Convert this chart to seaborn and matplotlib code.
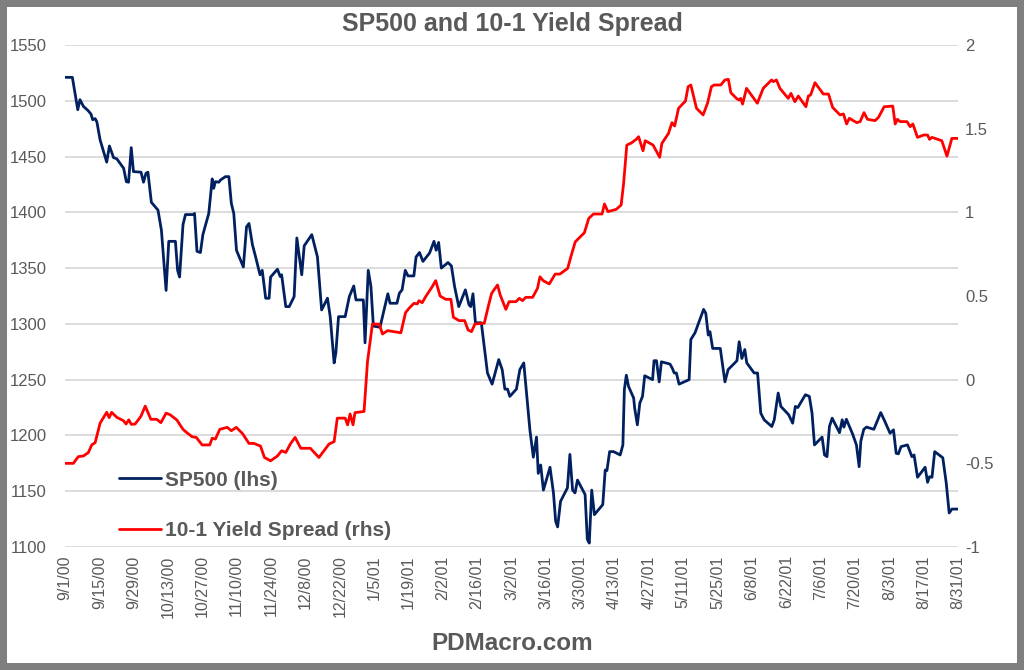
import pandas as pd
import matplotlib.pyplot as plt
import seaborn as sns
from matplotlib.patches import Rectangle

# Data (days after 9/1/00, value)
start = pd.Timestamp("2000-09-01")

sp_days = [0, 3, 5.2, 6.1, 7.5, 9.5, 10.6, 11.3, 12.3, 13, 14.3, 17, 18.1, 19.8, 21.1, 23.9, 25, 25.9,
           27, 27.9, 31, 32, 33, 33.8, 35.2, 37.9, 39.3, 41.2, 42.3, 45, 45.9, 46.7, 48.1, 49.1, 52.2,
           52.8, 53.8, 55.2, 56.2, 58.6, 60, 60.6, 61.3, 62.7, 63.4, 65.4, 66.8, 67.8, 68.8, 69.9, 72.7,
           74, 75, 76.4, 77.7, 79.5, 80.4, 81.8, 83.2, 83.8, 86.6, 87.7, 88.3, 90, 91.4, 93.4, 94.5,
           96.5, 97.5, 100.6, 102.9, 104.6, 107, 108.1, 109.7, 110.4, 111.5, 114.2, 115.9, 117.7, 118.6,
           121.6, 122.3, 123.6, 124.7, 125.7, 128.4, 130.2, 131.6, 132.5, 135.3, 136.3, 137.4, 138.7,
           139.8, 142.2, 143.1, 144.5, 145.9, 148.6, 150.4, 151.3, 152.3, 153.4, 156.1, 157.5, 158.8,
           160.5, 163.2, 164.7, 165.4, 166.3, 167.3, 169.7, 172.2, 174.1, 176.8, 178.2, 179.3, 180.4,
           181.3, 184, 185.4, 187, 188.4, 189.5, 190.9, 192.2, 192.9, 193.9, 195, 197.7, 199.1, 200,
           200.8, 202, 204.8, 205.8, 206.9, 207.9, 208.9, 212, 212.9, 213.7, 214.7, 215.8, 219.2, 220.2,
           220.9, 222, 223.6, 226.3, 227.4, 228, 228.8, 229.7, 231.8, 232.2, 233.3, 234.3, 235.4, 236.3,
           239.5, 240.1, 241.1, 242.2, 243.1, 246.6, 247.6, 248.3, 249.2, 250.3, 254.4, 255.1, 256.8,
           260.3, 261.2, 262.2, 262.9, 264, 267.1, 269, 270.3, 273.9, 274.8, 275.9, 277.1, 277.9, 280.9,
           282.3, 283.6, 285, 288.1, 289.1, 290.7, 291.8, 295, 296.6, 297.7, 298.7, 301.8, 303.4, 304.5,
           305.5, 308.6, 309.6, 310.6, 311.6, 312.7, 315.7, 316.8, 317.5, 318.5, 321, 322.6, 323.7,
           324.4, 325.6, 326.7, 329.7, 332.5, 334.2, 336.3, 337.7, 338.8, 339.7, 340.8, 343.4, 345.2,
           346.1, 347.5, 350.6, 351.6, 352.4, 353.4, 354.5, 357.8, 359.2, 360.4, 361.5, 364]
sp_vals = [1521, 1521, 1492, 1501, 1495, 1491, 1488, 1483, 1484, 1481, 1465, 1445, 1459.5, 1449, 1448,
           1439.5, 1427.5, 1427, 1458, 1436.5, 1436, 1427, 1435, 1436, 1409, 1402, 1384, 1330, 1374,
           1374, 1348, 1342, 1389, 1398, 1398, 1399, 1365, 1364, 1380, 1399, 1430, 1421.5, 1427.5, 1427,
           1429, 1432, 1432, 1408, 1399, 1366, 1351, 1387, 1390, 1371, 1360, 1344, 1348, 1323, 1323,
           1342, 1349, 1342.5, 1344, 1315.5, 1315.5, 1324.5, 1377, 1344, 1370, 1380, 1360, 1312.5, 1323,
           1306.5, 1265, 1274, 1306.5, 1306.5, 1324.5, 1334, 1321.5, 1321.5, 1283, 1348, 1333.5, 1298,
           1297, 1314, 1327, 1318.5, 1318.5, 1327.5, 1330.5, 1348, 1343, 1343, 1360, 1364, 1356, 1363.5,
           1374, 1366, 1373, 1350, 1355, 1352, 1333.5, 1315.5, 1330.5, 1317, 1315.5, 1327, 1301, 1301,
           1256, 1246, 1268, 1259, 1241.5, 1241.5, 1235, 1241.5, 1259, 1265, 1232, 1205, 1180.5, 1198.5,
           1166, 1173.5, 1151, 1171.5, 1148.5, 1123, 1118, 1141, 1153, 1183, 1151, 1148.5, 1160, 1147,
           1107, 1103.5, 1151, 1129, 1138, 1169, 1168.5, 1185.5, 1185.5, 1182.5, 1191.5, 1241, 1254,
           1244, 1233.5, 1224.5, 1209.5, 1229, 1235, 1253.5, 1250, 1267, 1267, 1248, 1266, 1264, 1260,
           1256, 1256, 1246, 1250, 1286, 1292, 1313, 1309.5, 1290, 1293, 1278, 1278, 1248, 1259, 1267,
           1284, 1269, 1277, 1265, 1256, 1256, 1220, 1214, 1208, 1214, 1238, 1226, 1218.5, 1211, 1226,
           1225, 1236.5, 1235, 1220, 1191.5, 1198.5, 1182.5, 1181, 1208, 1215.5, 1202.5, 1214, 1207.5,
           1214.5, 1201.5, 1191.5, 1172, 1195, 1205.5, 1207.5, 1205.5, 1220.5, 1212.5, 1202, 1205, 1184,
           1183.5, 1190, 1191.5, 1181, 1182.5, 1162.5, 1171.5, 1158, 1163, 1162.5, 1185.5, 1180, 1157.5,
           1130.5, 1134, 1134]

spread_days = [0, 3.4, 5.4, 7.5, 9.5, 10.9, 12.3, 14.3, 17, 18, 19, 21.1, 23.8, 24.9, 26, 27, 28.6,
               30.9, 32.7, 35, 37.4, 39.1, 41.2, 42.9, 45.6, 48.1, 49.7, 51.8, 53.5, 55.9, 59, 60, 61.3,
               63.1, 66.1, 67.8, 69.8, 72.3, 75, 77, 79.7, 81.3, 83.8, 86.6, 88.3, 90, 92, 93.8, 96.1,
               100, 103.5, 107.6, 109.7, 111, 114.2, 115.2, 116.2, 117.4, 118.2, 121.9, 123.3, 125.3,
               128.1, 129.4, 131.5, 136.9, 138.8, 140.2, 142.2, 143.6, 144.3, 145.6, 147, 149.7, 151.1,
               152.9, 155.2, 157.3, 158.3, 160.6, 162.9, 164.3, 165.7, 167.1, 170.9, 172.5, 173.9, 176.3,
               177.4, 179.7, 181, 183.8, 185.2, 186.5, 187.8, 190.6, 192.6, 193.6, 194.9, 197.4, 199.8,
               201.7, 204.9, 206.2, 208, 211.7, 213.5, 215.4, 218.9, 219.9, 221.3, 224.7, 226.7, 227.7,
               229, 230.8, 232.9, 233.8, 235.6, 236.5, 239.7, 242.4, 243.3, 246, 247.4, 248.5, 250.1,
               252.9, 254, 255.1, 257.4, 260.1, 261.9, 263.5, 264.6, 267.3, 269, 270.4, 271.4, 273.7,
               274.7, 275.4, 276.2, 277.8, 280.5, 282.2, 284.6, 288, 288.7, 290, 291.4, 294.8, 295.9,
               297.5, 298.9, 302, 303, 303.9, 305.7, 309.1, 311.2, 312.9, 315.9, 317.3, 318.6, 319.7,
               322.7, 324.1, 325.7, 327.1, 330.2, 331.6, 333.9, 337.4, 338.4, 339.3, 340.4, 343.2, 344.5,
               345.6, 347.5, 350, 351.6, 352.4, 353.4, 357.4, 359.5, 361.5, 364]
spread_vals = [-0.5, -0.5, -0.46, -0.456, -0.436, -0.39, -0.376, -0.26, -0.195, -0.227, -0.195, -0.225,
               -0.245, -0.265, -0.24, -0.267, -0.265, -0.22, -0.158, -0.237, -0.237, -0.257, -0.2, -0.21,
               -0.241, -0.297, -0.317, -0.341, -0.345, -0.39, -0.39, -0.35, -0.355, -0.297, -0.285,
               -0.305, -0.285, -0.321, -0.381, -0.381, -0.397, -0.465, -0.485, -0.456, -0.425, -0.435,
               -0.381, -0.345, -0.41, -0.41, -0.465, -0.385, -0.37, -0.23, -0.23, -0.27, -0.205, -0.27,
               -0.197, -0.19, 0.107, 0.332, 0.332, 0.273, 0.293, 0.28, 0.4, 0.426, 0.456, 0.453, 0.472,
               0.46, 0.496, 0.556, 0.592, 0.5, 0.48, 0.48, 0.373, 0.353, 0.353, 0.297, 0.287, 0.333, 0.337,
               0.436, 0.516, 0.566, 0.506, 0.42, 0.466, 0.466, 0.486, 0.472, 0.492, 0.492, 0.546, 0.615,
               0.592, 0.572, 0.631, 0.631, 0.665, 0.735, 0.824, 0.878, 0.964, 0.99, 0.99, 1.05, 1.004,
               1.018, 1.044, 1.173, 1.402, 1.414, 1.437, 1.452, 1.368, 1.428, 1.402, 1.329, 1.412, 1.472,
               1.536, 1.516, 1.622, 1.665, 1.751, 1.761, 1.622, 1.582, 1.652, 1.751, 1.761, 1.761, 1.791,
               1.795, 1.715, 1.681, 1.671, 1.681, 1.647, 1.741, 1.687, 1.652, 1.741, 1.791, 1.781, 1.791,
               1.741, 1.681, 1.711, 1.661, 1.695, 1.631, 1.695, 1.701, 1.775, 1.707, 1.707, 1.627, 1.582,
               1.588, 1.528, 1.562, 1.536, 1.542, 1.596, 1.556, 1.548, 1.568, 1.631, 1.635, 1.528, 1.556,
               1.542, 1.542, 1.512, 1.528, 1.448, 1.462, 1.462, 1.436, 1.448, 1.428, 1.336, 1.442, 1.442]

tick_labels = ["9/1/00", "9/15/00", "9/29/00", "10/13/00", "10/27/00", "11/10/00", "11/24/00",
               "12/8/00", "12/22/00", "1/5/01", "1/19/01", "2/2/01", "2/16/01", "3/2/01", "3/16/01",
               "3/30/01", "4/13/01", "4/27/01", "5/11/01", "5/25/01", "6/8/01", "6/22/01", "7/6/01",
               "7/20/01", "8/3/01", "8/17/01", "8/31/01"]
left_ticks = [1100, 1150, 1200, 1250, 1300, 1350, 1400, 1450, 1500, 1550]
right_ticks = [-1, -0.5, 0, 0.5, 1, 1.5, 2]
right_labels = ["-1", "-0.5", "0", "0.5", "1", "1.5", "2"]

sp = pd.DataFrame({"Date": start + pd.to_timedelta(sp_days, unit="D"), "SP500": sp_vals})
spread = pd.DataFrame({"Date": start + pd.to_timedelta(spread_days, unit="D"), "Spread": spread_vals})
tick_dates = pd.to_datetime(tick_labels, format="%m/%d/%y")

sns.set_style("white")
plt.rcParams["font.family"] = ["Liberation Sans", "DejaVu Sans"]
grey = "#595959"

fig = plt.figure(figsize=(10.24, 6.7), dpi=100, facecolor="#7f7f7f")
# white card inside the grey frame
fig.patches.append(Rectangle((7 / 1024, 7 / 670), 1010 / 1024, 656 / 670, transform=fig.transFigure,
                             facecolor="white", edgecolor="none", zorder=-1))
ax = fig.add_axes([65 / 1024, 1 - 547 / 670, 893 / 1024, 502 / 670])
ax.set_facecolor("none")
ax2 = ax.twinx()

sns.lineplot(data=sp, x="Date", y="SP500", ax=ax, color="#002060", linewidth=2, legend=False)
sns.lineplot(data=spread, x="Date", y="Spread", ax=ax2, color="#ff0000", linewidth=2, legend=False)

ax.set_xlim(start, start + pd.Timedelta(days=364))
ax.set_ylim(1100, 1550)
ax2.set_ylim(-1, 2)

ax.set_yticks(left_ticks)
ax.set_yticklabels([str(v) for v in left_ticks], fontsize=12, color=grey)
ax2.set_yticks(right_ticks)
ax2.set_yticklabels(right_labels, fontsize=12, color=grey)
ax.set_xticks(tick_dates)
ax.set_xticklabels(tick_labels, rotation=90, fontsize=11.5, color=grey)

ax.tick_params(axis="y", length=0, pad=13)
ax2.tick_params(axis="y", length=0, pad=5)
ax.tick_params(axis="x", length=0, pad=6)
ax.yaxis.grid(True, color="#d9d9d9", linewidth=1.3)
ax.set_axisbelow(True)
for a in (ax, ax2):
    for s in a.spines.values():
        s.set_visible(False)
    a.set_xlabel("")
    a.set_ylabel("")

ax2.legend([ax.lines[0], ax2.lines[0]], ["SP500 (lhs)", "10-1 Yield Spread (rhs)"],
           loc="upper left", bbox_to_anchor=(0.061, 0.152), frameon=False,
           prop={"weight": "bold", "size": 15}, labelcolor=grey, handlelength=2.0,
           handletextpad=0.2, labelspacing=1.5, borderpad=0, borderaxespad=0)

fig.text(0.5, 1 - 24 / 670, "SP500 and 10-1 Yield Spread", ha="center", va="center",
         fontsize=18, fontweight="bold", color=grey)
fig.text(0.5, 1 - 643 / 670, "PDMacro.com", ha="center", va="center",
         fontsize=17.5, fontweight="bold", color=grey)

fig.savefig("out.png", dpi=100, facecolor=fig.get_facecolor())
